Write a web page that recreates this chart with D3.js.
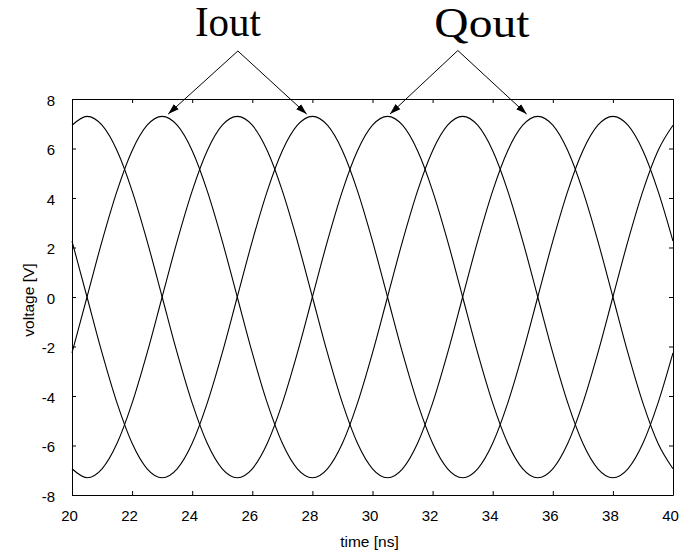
<!DOCTYPE html>
<html><head><meta charset="utf-8">
<script src="https://cdn.jsdelivr.net/npm/d3@7"></script>
<style>body{margin:0;background:#fff}svg{display:block}</style>
</head><body><svg id="c" width="688" height="552"></svg>
<script>
// time axis samples [ns]
const timeNs = [20,20.5,21,21.5,22,22.5,23,23.5,24,24.5,25,25.5,26,26.5,27,27.5,28,28.5,29,29.5,30,30.5,31,31.5,32,32.5,33,33.5,34,34.5,35,35.5,36,36.5,37,37.5,38,38.5,39,39.5,40];
// Qout (+) : peaks at 20.5, 30.5
const qoutP = [6.94,7.3,6.94,5.91,4.29,2.26,0,-2.26,-4.29,-5.91,-6.94,-7.3,-6.94,-5.91,-4.29,-2.26,0,2.26,4.29,5.91,6.94,7.3,6.94,5.91,4.29,2.26,0,-2.26,-4.29,-5.91,-6.94,-7.3,-6.94,-5.91,-4.29,-2.26,0,2.26,4.29,5.91,6.94];
// Iout (+) : peaks at 23, 33
const ioutP = [-2.26,0,2.26,4.29,5.91,6.94,7.3,6.94,5.91,4.29,2.26,0,-2.26,-4.29,-5.91,-6.94,-7.3,-6.94,-5.91,-4.29,-2.26,0,2.26,4.29,5.91,6.94,7.3,6.94,5.91,4.29,2.26,0,-2.26,-4.29,-5.91,-6.94,-7.3,-6.94,-5.91,-4.29,-2.26];
// Qout (-) : peaks at 25.5, 35.5
const qoutN = [-6.94,-7.3,-6.94,-5.91,-4.29,-2.26,0,2.26,4.29,5.91,6.94,7.3,6.94,5.91,4.29,2.26,0,-2.26,-4.29,-5.91,-6.94,-7.3,-6.94,-5.91,-4.29,-2.26,0,2.26,4.29,5.91,6.94,7.3,6.94,5.91,4.29,2.26,0,-2.26,-4.29,-5.91,-6.94];
// Iout (-) : peaks at 28, 38
const ioutN = [2.26,0,-2.26,-4.29,-5.91,-6.94,-7.3,-6.94,-5.91,-4.29,-2.26,0,2.26,4.29,5.91,6.94,7.3,6.94,5.91,4.29,2.26,0,-2.26,-4.29,-5.91,-6.94,-7.3,-6.94,-5.91,-4.29,-2.26,0,2.26,4.29,5.91,6.94,7.3,6.94,5.91,4.29,2.26];

const xTicks = [20,22,24,26,28,30,32,34,36,38,40];
const yTicks = [-8,-6,-4,-2,0,2,4,6,8];

// annotations (data coordinates)
const labels = ["Iout","Qout"];
const labelX = [25.19, 33.64];
const labelY = [10.55, 10.5];
const apexX = [25.52, 32.84];
const apexY = [9.94, 9.96];
const tipsX = [[23.2, 27.81],[30.58, 35.13]];
const tipY = 7.39;

const svg = d3.select("#c");
const L = 72, R = 673, T = 99, B = 495;
const x = d3.scaleLinear().domain([20,40]).range([L,R]);
const y = d3.scaleLinear().domain([-8,8]).range([B,T]);
const fmt = d => String(d);

function styleAxis(g){
  g.attr("font-family","'Liberation Sans', Arial, sans-serif").attr("font-size",15);
  g.selectAll("path,line").attr("stroke","#000");
  g.selectAll("text").attr("fill","#000");
}

const bx = svg.append("g").attr("transform",`translate(0,${B})`)
  .call(d3.axisBottom(x).tickValues(xTicks).tickSizeInner(-4).tickSizeOuter(0).tickPadding(15).tickFormat(fmt))
  .call(styleAxis);
bx.selectAll("text").attr("dx","-3");
svg.append("g").attr("transform",`translate(0,${T})`)
  .call(d3.axisTop(x).tickValues(xTicks).tickSizeInner(-4).tickSizeOuter(0).tickFormat(""))
  .call(styleAxis);
const ly = svg.append("g").attr("transform",`translate(${L},0)`)
  .call(d3.axisLeft(y).tickValues(yTicks).tickSizeInner(-4).tickSizeOuter(0).tickPadding(17).tickFormat(fmt))
  .call(styleAxis);
ly.selectAll("text").attr("dy","0.42em");
svg.append("g").attr("transform",`translate(${R},0)`)
  .call(d3.axisRight(y).tickValues(yTicks).tickSizeInner(-4).tickSizeOuter(0).tickFormat(""))
  .call(styleAxis);

// curves
const line = d3.line().x((d,i)=>x(timeNs[i])).y(d=>y(d)).curve(d3.curveMonotoneX);
[qoutP, ioutP, qoutN, ioutN].forEach(s=>{
  svg.append("path").attr("d", line(s)).attr("fill","none").attr("stroke","#000").attr("stroke-width",1.1);
});

// axis titles
svg.append("text").attr("x",(L+R)/2 - 3).attr("y",547).attr("text-anchor","middle")
  .attr("font-family","'Liberation Sans', Arial, sans-serif").attr("font-size",15.5).text("time [ns]");
svg.append("text").attr("transform",`translate(34,300) rotate(-90)`).attr("text-anchor","middle")
  .attr("font-family","'Liberation Sans', Arial, sans-serif").attr("font-size",15.5).text("voltage [V]");

// arrows
svg.append("defs").append("marker").attr("id","ah").attr("markerUnits","userSpaceOnUse")
  .attr("markerWidth",12).attr("markerHeight",8).attr("refX",11).attr("refY",4).attr("orient","auto")
  .append("path").attr("d","M0,0.5 L11,4 L0,7.5 Z").attr("fill","#000");

labels.forEach((t,k)=>{
  tipsX[k].forEach(tx=>{
    svg.append("line").attr("x1",x(apexX[k])).attr("y1",y(apexY[k]))
      .attr("x2",x(tx)).attr("y2",y(tipY)).attr("stroke","#000").attr("stroke-width",1)
      .attr("marker-end","url(#ah)");
  });
  svg.append("text").attr("x",x(labelX[k])).attr("y",y(labelY[k])).attr("text-anchor","middle")
    .attr("font-family","'Liberation Serif', 'Times New Roman', serif").attr("font-size",42)
    .attr("textLength", k===0 ? 66 : 95).attr("lengthAdjust","spacingAndGlyphs").text(t);
});
</script></body></html>
